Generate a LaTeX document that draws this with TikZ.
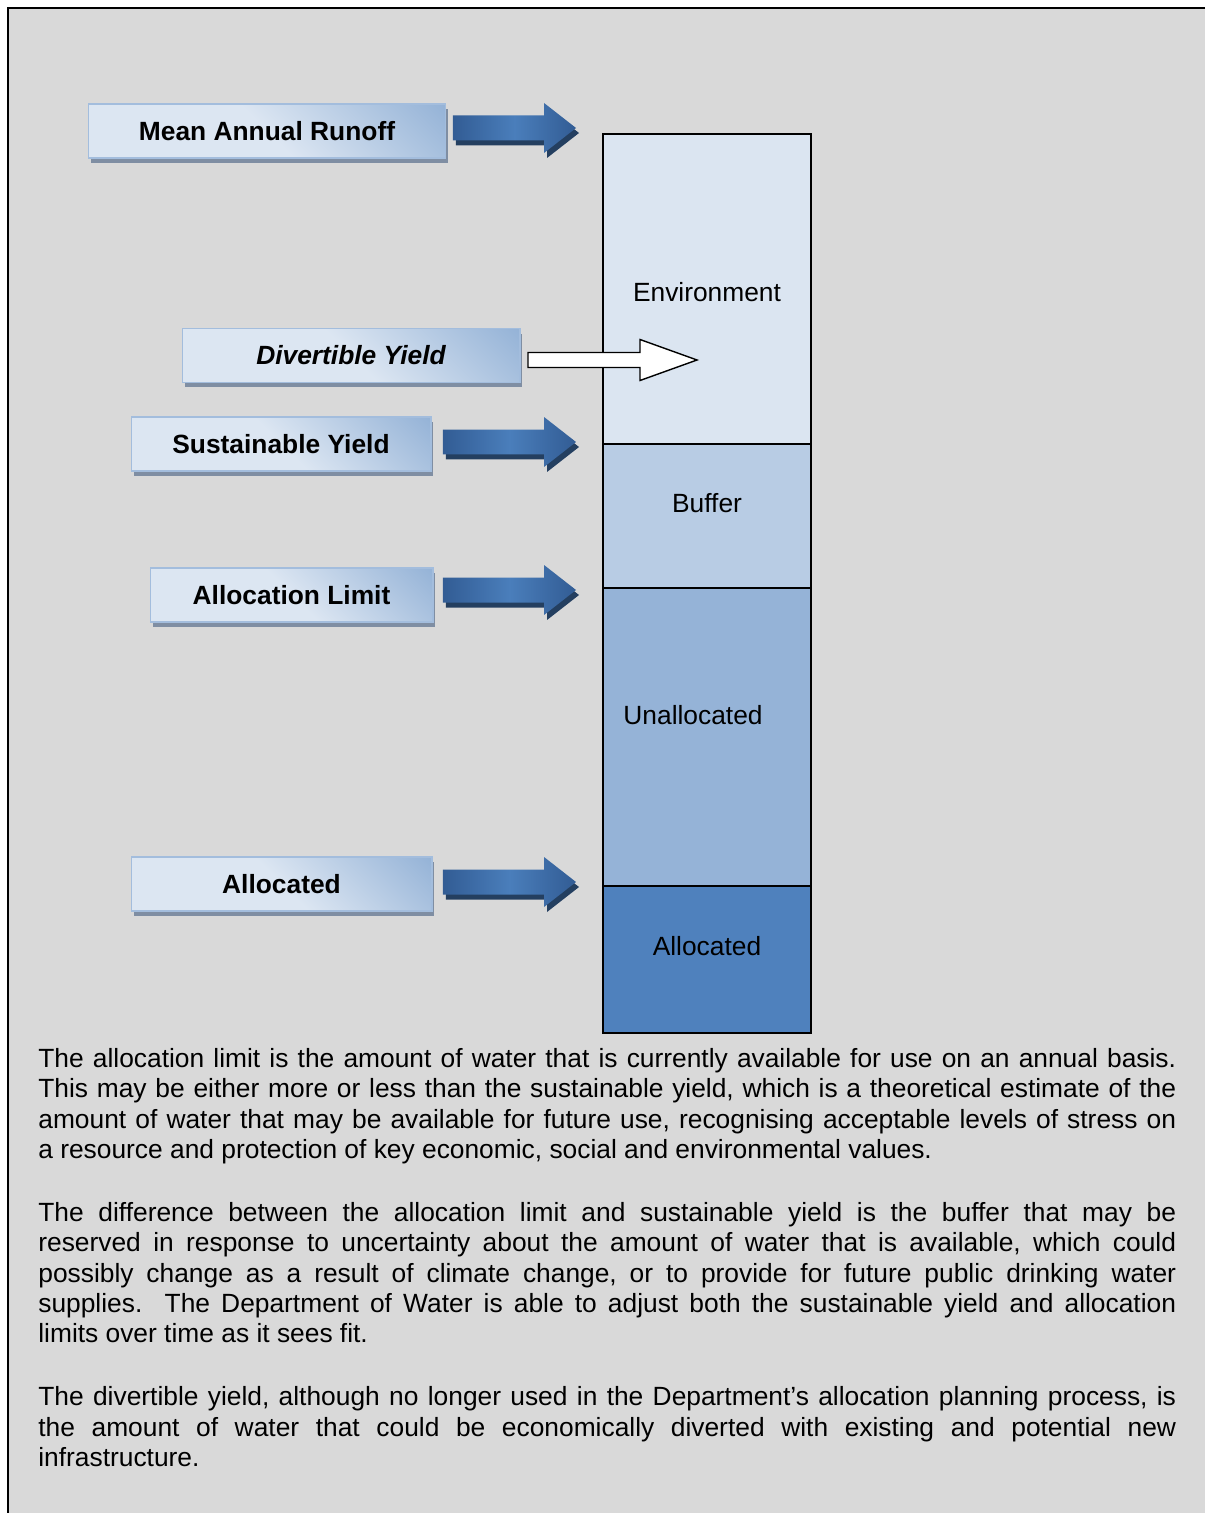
\documentclass[tikz,border=0pt]{standalone}
\usepackage{fontspec}
\setmainfont{Liberation Sans}
\usetikzlibrary{calc,positioning,shadows}

\definecolor{panelgrey}{HTML}{D9D9D9}
\definecolor{envfill}{HTML}{DBE5F1}
\definecolor{buffill}{HTML}{B8CCE4}
\definecolor{unalfill}{HTML}{95B3D7}
\definecolor{allocfill}{HTML}{4F81BD}
\definecolor{boxlight}{HTML}{DCE6F2}
\definecolor{boxdark}{HTML}{95B3D7}
\definecolor{boxedge}{HTML}{A3BDDD}
\definecolor{boxshadow}{HTML}{7F8EA3}
\definecolor{arrowmid}{HTML}{4A7EBB}
\definecolor{arrowedge}{HTML}{325C94}
\definecolor{arrowshadow}{HTML}{243F60}

\pgfdeclarehorizontalshading{boxshade}{100bp}{color(0bp)=(boxlight); color(50bp)=(boxlight); color(85bp)=(boxdark); color(100bp)=(boxdark)}

\newcommand{\figfont}{\fontsize{15pt}{17.3pt}\selectfont}

% block arrow from a start point, tip x taken from second point
\newcommand{\flowarrow}[2]{%
  \fill[arrowshadow] let \p1=($(#1)+(3,5)$), \p2=($(#2)+(3,0)$) in
    (\x1,\y1+0.25cm) -- (\x2-0.64cm,\y1+0.25cm) -- (\x2-0.64cm,\y1+0.5cm) -- (\x2,\y1)
    -- (\x2-0.64cm,\y1-0.5cm) -- (\x2-0.64cm,\y1-0.25cm) -- (\x1,\y1-0.25cm) -- cycle;
  \shade[left color=arrowedge,right color=arrowedge,middle color=arrowmid] let \p1=(#1), \p2=(#2) in
    (\x1,\y1+0.25cm) -- (\x2-0.64cm,\y1+0.25cm) -- (\x2-0.64cm,\y1+0.5cm) -- (\x2,\y1)
    -- (\x2-0.64cm,\y1-0.5cm) -- (\x2-0.64cm,\y1-0.25cm) -- (\x1,\y1-0.25cm) -- cycle;
}

\tikzset{
  labelbox/.style={draw=boxedge,line width=0.6pt,shade,shading=boxshade,shading angle=45,
    minimum height=1.08cm,inner sep=0pt,outer sep=0pt,font=\figfont\bfseries,
    drop shadow={shadow xshift=0.05cm,shadow yshift=-0.1cm,fill=boxshadow,opacity=1}},
  segment/.style={draw=black,line width=0.8pt,minimum width=4.16cm,inner sep=0pt,outer sep=0pt},
  whitearrow/.style={draw=black,line width=0.8pt,fill=white},
  bodytext/.style={text width=22.76cm,align=justify,inner sep=0pt},
}

\begin{document}
\begin{tikzpicture}[x=0.02cm,y=-0.02cm,every node/.style={font=\figfont}]
  \useasboundingbox (0,0) rectangle (1205,1513);
  % panel
  \fill[white] (0,0) rectangle (1205,1513);
  \fill[panelgrey] (8,8) rectangle (1205,1513);
  \draw[line width=0.6pt] (1205,8) -- (8,8) -- (8,1513);
  \draw[line width=1.2pt] (8,53) -- (8,1513);

  % the column
  \node[segment,fill=envfill,minimum height=6.2cm] (segEnv) at (707,289) {};
  \node[segment,fill=buffill,minimum height=2.88cm,below=0pt of segEnv] (segBuf) {};
  \node[segment,fill=unalfill,minimum height=5.96cm,below=0pt of segBuf] (segUnal) {};
  \node[segment,fill=allocfill,minimum height=2.94cm,below=0pt of segUnal] (segAlloc) {};
  \node (txtEnv) at (707,292) {Environment};
  \node (txtBuf) at (707,503) {Buffer};
  \node (txtUnal) at (693,715) {Unallocated};
  \node (txtAlloc) at (707,946) {Allocated};

  % labels on the left
  \node[labelbox,minimum width=7.16cm] (boxMAR) at (267,131) {Mean Annual Runoff};
  \node[labelbox,minimum width=6.76cm] (boxDY) at (351,355.5) {\itshape Divertible Yield};
  \node[labelbox,minimum width=6cm] (boxSY) at (281,444) {Sustainable Yield};
  \node[labelbox,minimum width=5.66cm] (boxAL) at (291.5,595) {Allocation Limit};
  \node[labelbox,minimum width=6.02cm] (boxAll) at (281.5,884) {Allocated};

  % arrows
  \coordinate (tipBlue) at ($(segEnv.north west)+(-27,0)$);
  \coordinate (tipDY) at (697,360);
  \coordinate (srcMAR) at ($(boxMAR.east)+(7,-3)$);
  \coordinate (srcSY) at ($(boxSY.east)+(12,-2)$);
  \coordinate (srcAL) at ($(boxAL.east)+(10,-5)$);
  \coordinate (srcAll) at ($(boxAll.east)+(11,-2)$);
  \flowarrow{srcMAR}{tipBlue}
  \flowarrow{srcSY}{tipBlue}
  \flowarrow{srcAL}{tipBlue}
  \flowarrow{srcAll}{tipBlue}
  \draw[whitearrow] let \p1=($(boxDY.east)+(8,4.5)$), \p2=(tipDY) in
    (\x1,\y2+0.15cm) -- (\x2-1.14cm,\y2+0.15cm) -- (\x2-1.14cm,\y2+0.41cm) -- (\x2,\y2)
    -- (\x2-1.14cm,\y2-0.41cm) -- (\x2-1.14cm,\y2-0.15cm) -- (\x1,\y2-0.15cm) -- cycle;

  % notes below
  \node[bodytext,anchor=north west] (notes) at (38,1048) {\parindent=0pt\hyphenpenalty=10000\frenchspacing
    The allocation limit is the amount of water that is currently available for use on an annual basis.\linebreak
    This may be either more or less than the sustainable yield, which is a theoretical estimate of the\linebreak
    amount of water that may be available for future use, recognising acceptable levels of stress on\linebreak
    a resource and protection of key economic, social and environmental values.\par
    \vspace{18.4pt}
    The difference between the allocation limit and sustainable yield is the buffer that may be\linebreak
    reserved in response to uncertainty about the amount of water that is available, which could\linebreak
    possibly change as a result of climate change, or to provide for future public drinking water\linebreak
    supplies.\ \ The Department of Water is able to adjust both the sustainable yield and allocation\linebreak
    limits over time as it sees fit.\par
    \vspace{18.4pt}
    The divertible yield, although no longer used in the Department’s allocation planning process, is\linebreak
    the amount of water that could be economically diverted with existing and potential new\linebreak
    infrastructure.\par};
\end{tikzpicture}
\end{document}
